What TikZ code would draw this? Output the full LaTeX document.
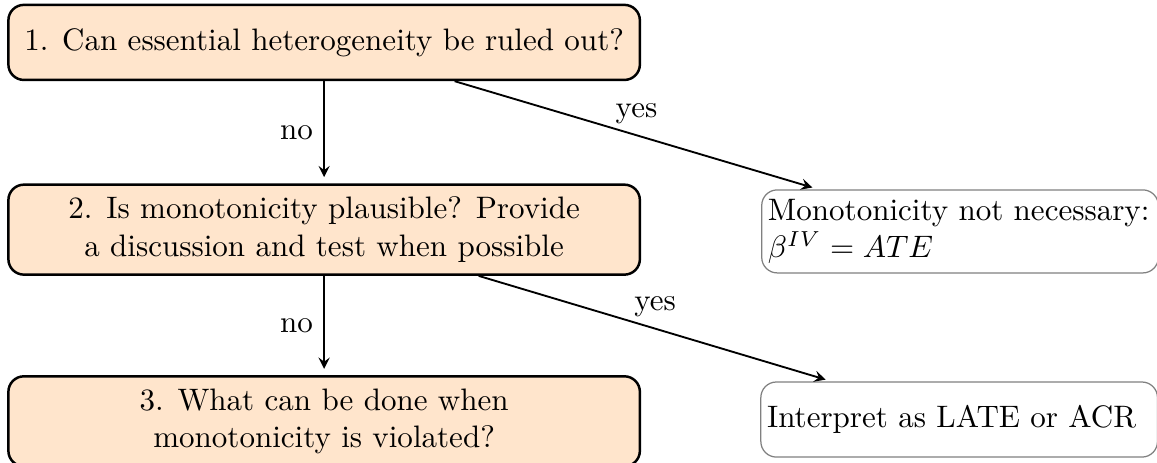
\documentclass[tikz,border=0pt]{standalone}
\usepackage{amsmath}

\tikzset{
	question/.style={shape=rectangle, draw, thick, rounded corners=5pt, fill=orange!20, minimum width=7.15cm, minimum height=0.85cm, align=center, inner sep=4pt},
	answer/.style={shape=rectangle, draw=gray, rounded corners=5pt, minimum width=4.43cm, minimum height=0.85cm, text width=4.35cm, align=left, inner sep=2pt},
	flow/.style={-stealth, semithick, shorten >=2pt}
}

\begin{document}
\begin{tikzpicture}
	\useasboundingbox (0, 0) rectangle (13.1, -5.24);
	% Questions on the left:
	\node[question] (q1) at (3.67, -0.48){1. Can essential heterogeneity be ruled out?};
	\node[question, minimum height=0.95cm] (q2) at (3.67, -2.6){2. Is monotonicity plausible? Provide\\a discussion and test when possible};
	\node[question, minimum height=0.93cm] (q3) at (3.67, -4.77){3. What can be done when\\monotonicity is violated?};
	% Answers on the right:
	\node[answer, minimum height=0.94cm] (a1) at (10.87, -2.62){Monotonicity not necessary:\\$\beta^{IV} = ATE$};
	\node[answer] (a2) at (10.86, -4.75){Interpret as LATE or ACR};
	% Arrows:
	\draw[flow] (q1) -- node[left]{no} (q2);
	\draw[flow] (q2) -- node[left]{no} (q3);
	\draw[flow] (q1) -- node[above]{yes} (a1);
	\draw[flow] (q2) -- node[above]{yes} (a2);
\end{tikzpicture}
\end{document}
